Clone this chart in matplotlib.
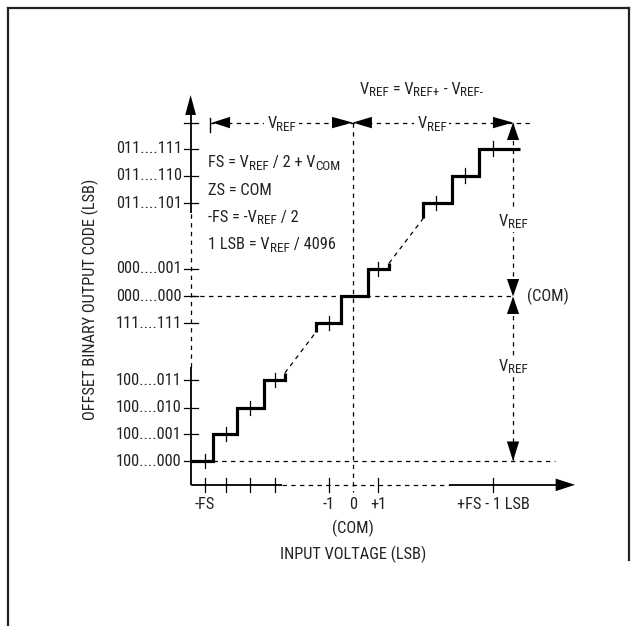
import re
import matplotlib
matplotlib.use("Agg")
import matplotlib.pyplot as plt
from matplotlib import font_manager
from matplotlib.patches import Rectangle

# ---------------- data (diagram units: x in LSB, y in output codes) ----------------
code_labels = ['100....000', '100....001', '100....010', '100....011', '111....111',
               '000....000', '000....001', '011....101', '011....110', '011....111']
code_levels = [-6.03, -5.04, -4.08, -3.07, -0.98, 0.0, 1.02, 3.41, 4.43, 5.42]
vref_level = 6.37

input_ticks = [-6.05, -5.16, -4.2, -3.18, -0.99, 1.03, 5.72]
input_labels = ['-FS', '', '', '', '-1', '+1', '+FS - 1 LSB']

# staircase runs: (x edges, levels)
low_edges = [-6.62, -5.72, -4.73, -3.62, -2.77]
low_levels = [-6.03, -5.04, -4.08, -3.07]
mid_edges = [-1.50, -0.50, 0.62, 1.48]
mid_levels = [-0.98, 0.0, 1.02]
up_edges = [2.88, 4.04, 5.15, 6.83]
up_levels = [3.41, 4.43, 5.42]
low_hook = -2.80
mid_hook_start = -1.30
mid_hook_end = 1.22
up_hook_start = 2.87

step_tick_x = [-6.05, -5.16, -4.2, -3.18, -0.99, 1.03, 3.39, 4.56, 5.72]
step_tick_y = [-6.03, -5.04, -4.08, -3.07, -0.98, 1.02, 3.41, 4.43, 5.42]

equations = ['FS = V_{REF} / 2 + V_{COM}',
             'ZS = COM',
             '-FS = -V_{REF} / 2',
             '1 LSB = V_{REF} / 4096']
vref_def = 'V_{REF} = V_{REF+} - V_{REF-}'
vref_label = 'V_{REF}'

# ---------------- fonts ----------------
names = {f.name for f in font_manager.fontManager.ttflist}
fam = 'Liberation Sans'
for cand in ['Roboto Condensed', 'Archivo Narrow', 'Liberation Sans Narrow',
             'Fira Sans Condensed', 'IBM Plex Sans Condensed']:
    if cand in names:
        fam = cand
        break
plt.rcParams['font.family'] = [fam, 'DejaVu Sans']
FS = 11.8
SUB = 0.8
TXT = '#222222'

fig = plt.figure(figsize=(6.37, 6.26), dpi=100)
ax = fig.add_axes([0, 0, 1, 1])
ax.set_xlim(-14.4, 11.6)
ax.set_ylim(-12.07, 10.86)
ax.axis('off')
renderer = fig.canvas.get_renderer()


def text_width(t, size):
    a = ax.text(0, 0, '.' + t + '.', fontsize=size)
    b = ax.text(0, 0, '..', fontsize=size)
    w = a.get_window_extent(renderer).width - b.get_window_extent(renderer).width
    a.remove(); b.remove()
    return w


def rich(x, y, s, ha='left', bg=False):
    parts = [p for p in re.split(r'(_\{[^}]*\})', s) if p]
    segs = [(p[2:-1], True) if p.startswith('_{') else (p, False) for p in parts]
    size_px = FS * 100 / 72
    cap = 0.711 * size_px
    widths = [text_width(t, FS * SUB if sub else FS) for t, sub in segs]
    total = sum(widths)
    px, py = ax.transData.transform((x, y))
    x0 = px - {'left': 0, 'center': total / 2, 'right': total}[ha]
    base = py - cap / 2
    inv = ax.transData.inverted()
    cur = x0
    for (t, sub), w in zip(segs, widths):
        yy = base - (2.2 if sub else 0)
        dx, dy = inv.transform((cur, yy))
        ax.text(dx, dy, t, fontsize=FS * SUB if sub else FS, ha='left', va='baseline',
                color=TXT, zorder=4)
        cur += w
    if bg:
        (ax0, ay0) = inv.transform((x0 - 3, base - 6))
        (ax1, ay1) = inv.transform((x0 + total + 3, base + cap + 3))
        ax.add_patch(Rectangle((ax0, ay0), ax1 - ax0, ay1 - ay0, facecolor='white',
                               edgecolor='none', zorder=3.5))


# frame
fig.add_artist(plt.Line2D([8/637, 8/637], [0, 1 - 8/626], transform=fig.transFigure, color='#222', lw=1.6))
fig.add_artist(plt.Line2D([8/637, 629/637], [1 - 8/626, 1 - 8/626], transform=fig.transFigure, color='#222', lw=1.6))
fig.add_artist(plt.Line2D([629/637, 629/637], [1 - 8/626, 1 - 560/626], transform=fig.transFigure, color='#222', lw=1.6))

DASH = (0, (3.5, 3.5))
K = 'black'

yax_x = -6.62
xax_y = -6.90

# y-axis
ax.plot([yax_x, yax_x], [xax_y, -2.58], color=K, lw=1.3, solid_capstyle='butt')
ax.plot([yax_x, yax_x], [-2.58, 3.10], color=K, lw=0.9, ls=DASH)
ax.plot([yax_x, yax_x], [3.10, 6.8], color=K, lw=1.3)
ax.fill([yax_x - 0.22, yax_x + 0.22, yax_x], [6.65, 6.65, 7.38], color=K, lw=0)
# x-axis
ax.plot([yax_x, -2.90], [xax_y, xax_y], color=K, lw=1.3, solid_capstyle='butt')
ax.plot([-2.90, 3.97], [xax_y, xax_y], color=K, lw=0.9, ls=DASH)
ax.plot([3.97, 8.4], [xax_y, xax_y], color=K, lw=1.3)
ax.fill([8.28, 8.28, 9.07], [xax_y - 0.23, xax_y + 0.23, xax_y], color=K, lw=0)

# y ticks + labels
for lv, lab in zip(code_levels, code_labels):
    ax.plot([yax_x - 0.29, yax_x + 0.29], [lv, lv], color=K, lw=0.9)
    ax.text(yax_x - 0.36, lv, lab, ha='right', va='center', fontsize=FS, color=TXT)
ax.plot([yax_x - 0.29, yax_x + 0.29], [vref_level, vref_level], color=K, lw=0.9)

# x ticks + labels
for xv, lab in zip(input_ticks, input_labels):
    ax.plot([xv, xv], [xax_y - 0.245, xax_y + 0.245], color=K, lw=0.9)
    if lab:
        ax.text(xv, -7.62, lab, ha='center', va='center', fontsize=FS, color=TXT)
ax.text(0, -7.62, '0', ha='center', va='center', fontsize=FS, color=TXT)
ax.text(0, -8.49, '(COM)', ha='center', va='center', fontsize=FS, color=TXT)
ax.text(0, -9.43, 'INPUT VOLTAGE (LSB)', ha='center', va='center', fontsize=FS, color=TXT)
ax.text(-10.72, -0.12, 'OFFSET BINARY OUTPUT CODE (LSB)', ha='center', va='center',
        rotation=90, fontsize=FS, color=TXT)

# reference dashed lines
ax.plot([yax_x, 6.54], [0, 0], color=K, lw=0.9, ls=DASH)
ax.plot([low_edges[1], 8.25], [low_levels[0], low_levels[0]], color=K, lw=0.9, ls=DASH)
ax.plot([0, 0], [vref_level, -7.15], color=K, lw=0.9, ls=DASH)
ax.plot([-5.83, 7.23], [vref_level, vref_level], color=K, lw=0.9, ls=DASH)
ax.plot([6.54, 6.54], [vref_level, low_levels[0]], color=K, lw=0.9, ls=DASH)

# horizontal dimension arrows
ax.plot([-5.83, -5.83], [6.04, 6.54], color=K, lw=1.0)
hh = 0.21
for tip, base in [(-5.74, -5.01), (0, -0.85), (0, 0.78), (6.54, 5.72)]:
    ax.fill([tip, base, base], [vref_level, vref_level + hh, vref_level - hh], color=K, lw=0)
# vertical dimension arrows
hw = 0.25
for tip, base in [(vref_level, 5.73), (0, 0.64), (0, -0.64), (low_levels[0], -5.31)]:
    ax.fill([6.54, 6.54 - hw, 6.54 + hw], [tip, base, base], color=K, lw=0)

rich(-2.9, vref_level, vref_label, ha='center', bg=True)
rich(3.23, vref_level, vref_label, ha='center', bg=True)
rich(6.54, 2.8, vref_label, ha='center', bg=True)
rich(6.54, -2.5, vref_label, ha='center', bg=True)
ax.text(7.1, 0, '(COM)', ha='left', va='center', fontsize=FS, color=TXT)
rich(2.81, 7.63, vref_def, ha='center')

for i, eq in enumerate(equations):
    rich(-5.9, 4.94 - i * 1.0, eq, ha='left')

# staircase
def stair(edges, levels):
    xs, ys = [], []
    for i, lv in enumerate(levels):
        xs += [edges[i], edges[i + 1]]
        ys += [lv, lv]
    return xs, ys

lx, ly = stair(low_edges, low_levels)
lx.append(low_edges[-1]); ly.append(low_hook)
mx, my = stair(mid_edges, mid_levels)
mx = [mid_edges[0]] + mx + [mid_edges[-1]]
my = [mid_hook_start] + my + [mid_hook_end]
ux, uy = stair(up_edges, up_levels)
ux = [up_edges[0]] + ux
uy = [up_hook_start] + uy
for xs, ys in [(lx, ly), (mx, my), (ux, uy)]:
    ax.plot(xs, ys, color=K, lw=2.3, solid_joinstyle='miter', solid_capstyle='butt')
ax.plot([low_edges[-1], mid_edges[0]], [low_hook, mid_hook_start], color=K, lw=0.9, ls=DASH)
ax.plot([mid_edges[-1], up_edges[0]], [mid_hook_end, up_hook_start], color=K, lw=0.9, ls=DASH)

for xv, yv in zip(step_tick_x, step_tick_y):
    ax.plot([xv, xv], [yv - 0.26, yv + 0.26], color=K, lw=0.9)

fig.savefig('out.png', dpi=100)
